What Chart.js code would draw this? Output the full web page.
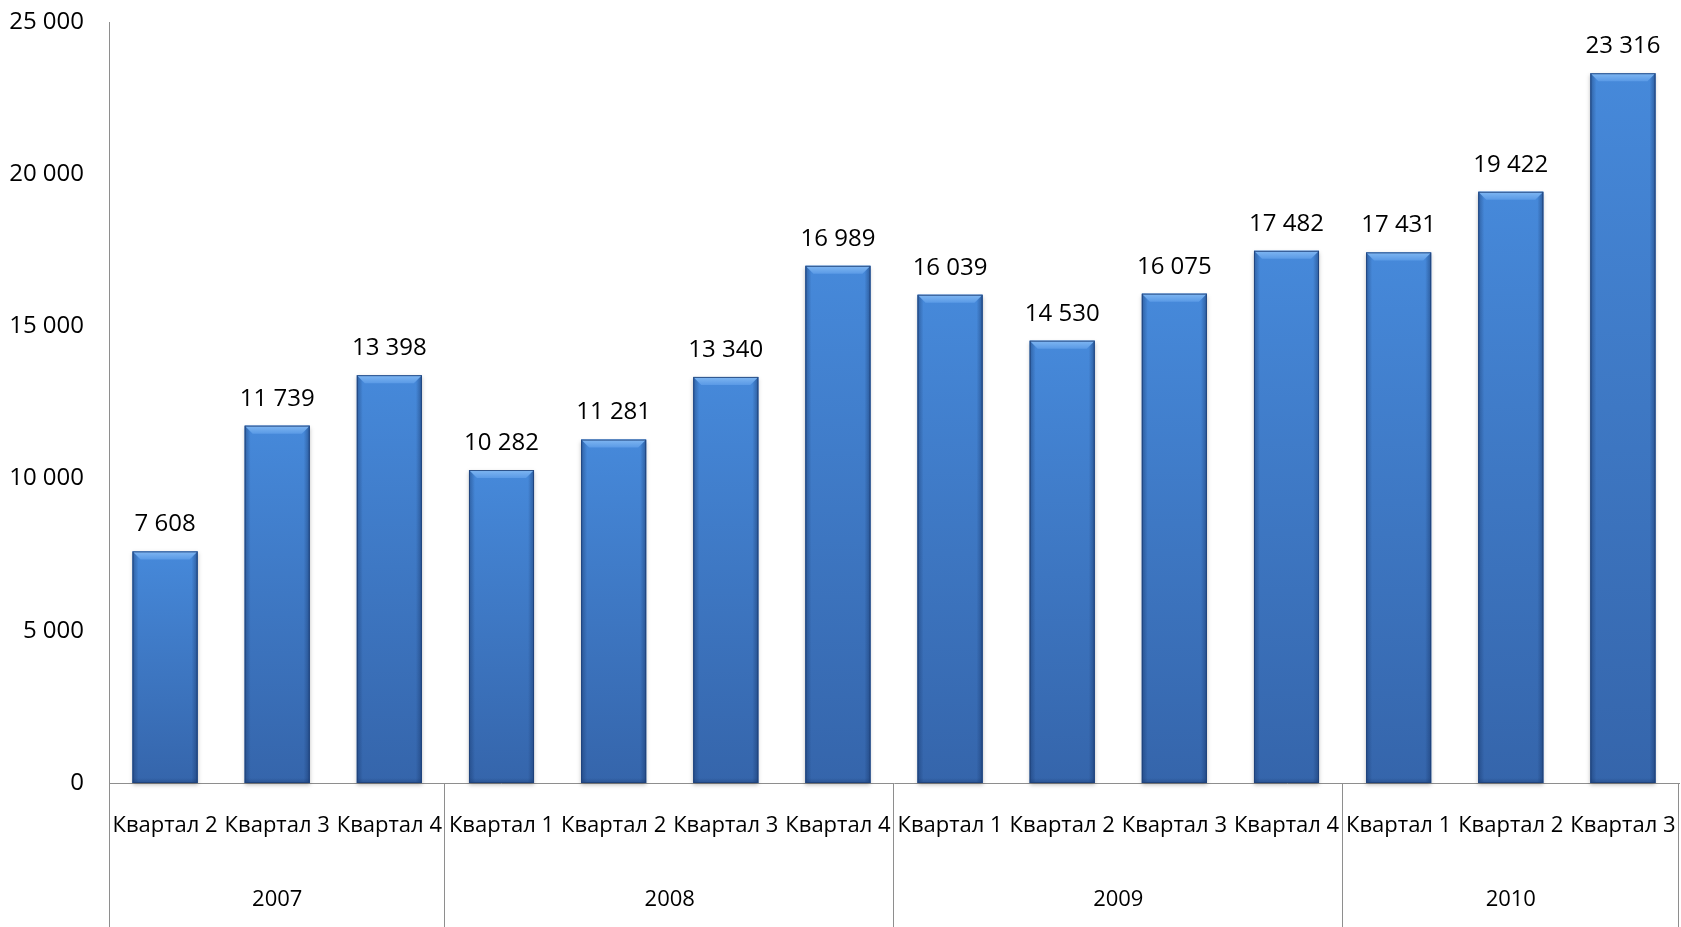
<!DOCTYPE html>
<html>
<head>
<meta charset="utf-8">
<script src="https://cdn.jsdelivr.net/npm/chart.js@4"></script>
<style>
  html, body { margin: 0; padding: 0; background: #ffffff; }
  #wrap { width: 1681px; height: 927px; position: relative; }
</style>
</head>
<body>
<div id="wrap"><canvas id="c" width="1681" height="927"></canvas></div>
<script>
// ---- data ----
const quarters = ['Квартал 2','Квартал 3','Квартал 4',
                  'Квартал 1','Квартал 2','Квартал 3','Квартал 4',
                  'Квартал 1','Квартал 2','Квартал 3','Квартал 4',
                  'Квартал 1','Квартал 2','Квартал 3'];
const years = ['2007','2008','2009','2010'];
const yearSizes = [3, 4, 4, 3];
const values = [7608, 11739, 13398, 10282, 11281, 13340, 16989,
                16039, 14530, 16075, 17482, 17431, 19422, 23316];
const yTicks = [0, 5000, 10000, 15000, 20000, 25000];

const FONT = '"Open Sans", "Noto Sans", sans-serif';
const AXIS_COLOR = '#8e8e8e';

function fmt(v) {
  return String(v).replace(/\B(?=(\d{3})+(?!\d))/g, ' ');
}

// bar styling + data labels
const barPlugin = {
  id: 'barStyle',
  afterDatasetsDraw(chart) {
    const ctx = chart.ctx;
    const meta = chart.getDatasetMeta(0);
    meta.data.forEach((bar, i) => {
      const x0 = bar.x - bar.width / 2, x1 = bar.x + bar.width / 2;
      const top = bar.y, bot = bar.base;
      const w = x1 - x0, h = bot - top;
      ctx.save();
      ctx.shadowColor = 'rgba(0,0,0,0.25)';
      ctx.shadowBlur = 4;
      ctx.shadowOffsetY = 2;
      const g = ctx.createLinearGradient(0, top, 0, bot);
      g.addColorStop(0, '#4689da');
      g.addColorStop(1, '#3565ab');
      ctx.fillStyle = g;
      ctx.fillRect(x0, top, w, h);
      ctx.restore();
      ctx.save();
      const e = 6;
      const gl = ctx.createLinearGradient(x0, 0, x0 + e, 0);
      gl.addColorStop(0, 'rgba(20,50,100,0.45)');
      gl.addColorStop(1, 'rgba(20,50,100,0)');
      ctx.fillStyle = gl;
      ctx.fillRect(x0, top, e, h);
      const gr = ctx.createLinearGradient(x1 - e, 0, x1, 0);
      gr.addColorStop(0, 'rgba(20,50,100,0)');
      gr.addColorStop(1, 'rgba(20,50,100,0.5)');
      ctx.fillStyle = gr;
      ctx.fillRect(x1 - e, top, e, h);
      const gb = ctx.createLinearGradient(0, bot - 5, 0, bot);
      gb.addColorStop(0, 'rgba(20,50,100,0)');
      gb.addColorStop(1, 'rgba(20,50,100,0.35)');
      ctx.fillStyle = gb;
      ctx.fillRect(x0, bot - 5, w, 5);
      const bv = 8;
      ctx.beginPath();
      ctx.moveTo(x0, top);
      ctx.lineTo(x1, top);
      ctx.lineTo(x1 - bv, top + bv);
      ctx.lineTo(x0 + bv, top + bv);
      ctx.closePath();
      const gt = ctx.createLinearGradient(0, top, 0, top + bv);
      gt.addColorStop(0, '#80b7f2');
      gt.addColorStop(1, '#5a9ae6');
      ctx.fillStyle = gt;
      ctx.fill();
      ctx.strokeStyle = 'rgba(30,65,120,0.85)';
      ctx.lineWidth = 1;
      ctx.strokeRect(x0 + 0.5, top + 0.5, w - 1, h - 1);
      ctx.restore();
      // data label
      ctx.save();
      ctx.fillStyle = '#000';
      ctx.font = '24px ' + FONT;
      ctx.textAlign = 'center';
      ctx.textBaseline = 'middle';
      ctx.fillText(fmt(values[i]), bar.x, top - 27);
      ctx.restore();
    });
  }
};

// multi-level x axis: quarter labels, separators + year labels
const groupPlugin = {
  id: 'groups',
  afterDraw(chart) {
    const ctx = chart.ctx;
    const xs = chart.scales.x;
    const area = chart.chartArea;
    const bottom = chart.height;
    const step = (xs.right - xs.left) / quarters.length;
    ctx.save();
    ctx.strokeStyle = AXIS_COLOR;
    ctx.lineWidth = 1;
    ctx.beginPath();
    ctx.moveTo(Math.round(area.left) + 0.5, area.top);
    ctx.lineTo(Math.round(area.left) + 0.5, bottom);
    ctx.stroke();
    ctx.fillStyle = '#000';
    ctx.textAlign = 'center';
    ctx.textBaseline = 'middle';
    ctx.font = '22px ' + FONT;
    quarters.forEach((q, i) => {
      ctx.fillText(xs.getLabelForValue(i), xs.getPixelForValue(i), area.bottom + 43);
    });
    let idx = 0;
    years.forEach((y, k) => {
      const startX = xs.getPixelForValue(idx) - step / 2;
      idx += yearSizes[k];
      const endX = xs.getPixelForValue(idx - 1) + step / 2;
      ctx.beginPath();
      ctx.moveTo(Math.round(endX) - 0.5, area.bottom);
      ctx.lineTo(Math.round(endX) - 0.5, bottom);
      ctx.stroke();
      ctx.font = '22px ' + FONT;
      ctx.fillText(y, (startX + endX) / 2, area.bottom + 117);
    });
    ctx.restore();
  }
};

new Chart(document.getElementById('c'), {
  type: 'bar',
  data: {
    labels: quarters,
    datasets: [{
      data: values,
      backgroundColor: '#3d78c6',
      borderWidth: 0,
      categoryPercentage: 1.0,
      barPercentage: 0.58
    }]
  },
  options: {
    responsive: false,
    animation: false,
    layout: { padding: { top: 22, right: 2, bottom: 0, left: 0 } },
    plugins: { legend: { display: false }, tooltip: { enabled: false } },
    scales: {
      x: {
        grid: { display: false, drawTicks: false },
        border: { display: true, color: AXIS_COLOR, width: 1 },
        ticks: { display: false, autoSkip: false },
        afterFit(s) { s.height = 144; s.paddingLeft = 0; s.paddingRight = 0; }
      },
      y: {
        min: 0, max: 25000,
        afterBuildTicks(s) { s.ticks = yTicks.map(v => ({ value: v })); },
        grid: { display: false, drawTicks: false },
        border: { display: true, color: AXIS_COLOR, width: 1 },
        ticks: {
          color: '#000', padding: 25,
          font: { family: FONT, size: 24 },
          callback: v => fmt(v)
        },
        afterFit(s) { s.width = 109; s.paddingTop = 0; s.paddingBottom = 0; }
      }
    }
  },
  plugins: [barPlugin, groupPlugin]
});
</script>
</body>
</html>
